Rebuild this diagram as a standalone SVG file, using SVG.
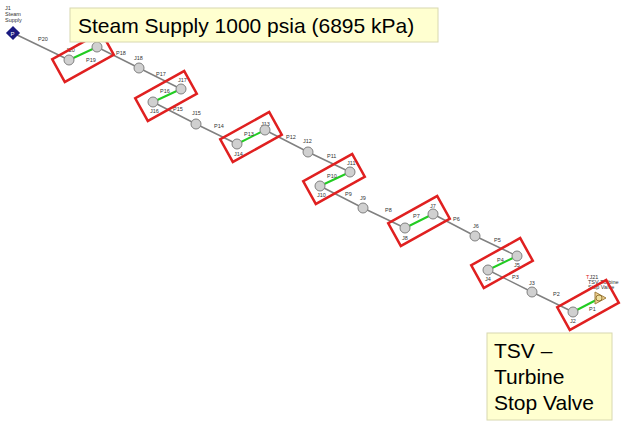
<svg xmlns="http://www.w3.org/2000/svg" width="624" height="427" viewBox="0 0 624 427">
<style>
.p{stroke:#808080;stroke-width:1.5;fill:none}
.g{stroke:#22cc22;stroke-width:2;fill:none}
.j{fill:#d0d0d0;stroke:#808080;stroke-width:1}
.b{fill:none;stroke:#e02020;stroke-width:2.5}
.t{font-family:"Liberation Sans",Arial,sans-serif;font-size:5.5px;fill:#333}
.c{fill:#ffffd0;stroke:#d8d8b0;stroke-width:1}
.ct{font-family:"Liberation Sans",Arial,sans-serif;font-size:21px;fill:#000}
</style>
<rect width="624" height="427" fill="#fff"/>
<g id="connectors">
<path class="p" d="M13,33L69,60M97,47L139,68L181,89M153,102L196,124L237,144M265,130L308,152L350,172M320,186L363,208L405,228M433,214L475,236L517,256M488,270L532,292L573,312"/>
<path class="g" d="M69,60L97,47M153,102L181,89M237,144L265,130M320,186L350,172M405,228L433,214M488,270L517,256M573,312L600,298"/>
<g class="t">
<text x="38" y="41">P20</text><text x="86" y="62">P19</text><text x="116" y="55">P18</text><text x="156" y="76">P17</text><text x="160" y="93">P16</text><text x="173" y="111">P15</text><text x="214" y="128">P14</text><text x="244" y="136">P13</text><text x="286" y="139">P12</text><text x="327" y="158">P11</text><text x="327" y="178">P10</text><text x="345" y="196">P9</text><text x="385" y="212">P8</text><text x="413" y="218">P7</text><text x="453" y="221">P6</text><text x="494" y="242">P5</text><text x="497" y="262">P4</text><text x="512" y="279">P3</text><text x="553" y="296">P2</text><text x="589" y="311">P1</text>
<text x="5" y="10">J1</text><text x="5" y="16">Steam</text><text x="5" y="22">Supply</text>
<text x="66" y="52">J20</text><text x="134" y="60">J18</text><text x="178" y="82">J17</text><text x="150" y="113">J16</text><text x="192" y="115">J15</text><text x="261" y="126">J13</text><text x="234" y="156">J14</text><text x="303" y="143">J12</text><text x="347" y="165">J11</text><text x="317" y="197">J10</text><text x="360" y="200">J9</text><text x="430" y="208">J7</text><text x="402" y="240">J8</text><text x="473" y="228">J6</text><text x="514" y="267">J5</text><text x="485" y="281">J4</text><text x="529" y="285">J3</text><text x="570" y="323">J2</text>
<text x="586" y="279"><tspan fill="#e02020">T</tspan>J21</text><text x="588" y="284">TSV Turbine</text><text x="588" y="289">Stop Valve</text>
</g>
</g>
<g id="nodes">
<g id="J1"><rect x="8" y="28" width="10" height="10" fill="#1a1a80" transform="rotate(45 13 33)"/><text x="10.5" y="35.5" font-family="Liberation Sans,sans-serif" font-size="6" fill="#fff">P</text></g>
<g id="junctions">
<circle class="j" cx="69" cy="60" r="5"/><circle class="j" cx="97" cy="47" r="5"/><circle class="j" cx="139" cy="68" r="5"/><circle class="j" cx="181" cy="89" r="5"/><circle class="j" cx="153" cy="102" r="5"/><circle class="j" cx="196" cy="124" r="5"/><circle class="j" cx="265" cy="130" r="5"/><circle class="j" cx="237" cy="144" r="5"/><circle class="j" cx="308" cy="152" r="5"/><circle class="j" cx="350" cy="172" r="5"/><circle class="j" cx="320" cy="186" r="5"/><circle class="j" cx="363" cy="208" r="5"/><circle class="j" cx="433" cy="214" r="5"/><circle class="j" cx="405" cy="228" r="5"/><circle class="j" cx="475" cy="236" r="5"/><circle class="j" cx="517" cy="256" r="5"/><circle class="j" cx="488" cy="270" r="5"/><circle class="j" cx="532" cy="292" r="5"/><circle class="j" cx="573" cy="312" r="5"/>
</g>
<g id="J21"><path d="M595,292L606,298L595,304Z" fill="#f0d090" stroke="#a08040"/><circle cx="599" cy="298" r="3" fill="#f0e0a0" stroke="#806020" stroke-width="0.8"/></g>
<g id="boxes">
<rect class="b" x="-28" y="-13" width="56" height="26" transform="translate(83,57) rotate(-29)"/>
<rect class="b" x="-28" y="-13" width="56" height="26" transform="translate(166,96) rotate(-29)"/>
<rect class="b" x="-28" y="-13" width="56" height="26" transform="translate(251,137) rotate(-29)"/>
<rect class="b" x="-28" y="-13" width="56" height="26" transform="translate(334,179) rotate(-29)"/>
<rect class="b" x="-28" y="-13" width="56" height="26" transform="translate(419,221) rotate(-29)"/>
<rect class="b" x="-28" y="-13" width="56" height="26" transform="translate(502,263) rotate(-29)"/>
<rect class="b" x="-28" y="-13" width="56" height="26" transform="translate(588,305) rotate(-29)"/>
</g>
<g id="callout1"><rect class="c" x="70" y="8" width="368" height="34"/><text class="ct" x="78" y="33">Steam Supply 1000 psia (6895 kPa)</text></g>
<g id="callout2"><rect class="c" x="487" y="333" width="125" height="87"/><text class="ct" x="494" y="358">TSV –</text><text class="ct" x="494" y="384">Turbine</text><text class="ct" x="494" y="410">Stop Valve</text></g>
</g>
</svg>
